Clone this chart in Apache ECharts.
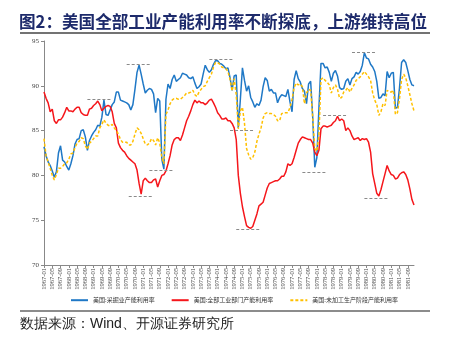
<!DOCTYPE html>
<html><head><meta charset="utf-8">
<script src="https://cdn.jsdelivr.net/npm/echarts@6/dist/echarts.min.js"></script>
<style>html,body{margin:0;padding:0;background:#fff}#c{width:449px;height:351px}</style>
</head><body><div id="c"></div>
<script>
// Monthly categories 1967-01 .. 1981-12
const startYear = 1967, monthCount = 180;
const categories = [];
for (let i = 0; i < monthCount; i++) {
  const y = startYear + Math.floor(i / 12), m = (i % 12) + 1;
  categories.push(y + '-' + (m < 10 ? '0' + m : m));
}
const seriesNames = ['美国:采掘业产能利用率', '美国:全部工业部门产能利用率', '美国:未加工生产阶段产能利用率'];
// 采掘业 (blue)
const mining = [
83.2,82.2,81.5,81.1,80.5,79.8,80.4,82.5,83.3,81.7,81.5,81.0,
80.6,81.3,82.2,83.5,84.0,84.1,85.0,85.1,84.3,82.8,83.9,84.4,
84.8,85.1,85.6,85.5,86.5,88.4,86.8,86.7,87.3,87.9,88.2,89.3,
89.3,88.4,88.3,88.2,88.1,87.9,87.3,87.9,89.6,91.5,92.3,91.3,
90.2,89.2,89.5,89.7,89.6,89.1,87.0,88.6,88.3,81.8,80.7,88.5,
90.2,89.7,90.7,91.2,90.5,90.7,90.9,91.4,91.3,91.2,90.9,90.8,
91.0,90.3,89.7,89.9,90.2,91.3,92.3,91.8,91.5,91.8,92.4,92.8,
92.8,92.5,92.4,92.2,91.9,92.0,90.9,89.5,91.1,91.2,85.3,88.5,
92.0,90.6,89.4,90.0,88.7,88.2,87.6,88.0,87.8,88.4,89.9,90.9,
90.6,89.4,89.6,89.2,89.2,88.1,88.7,89.0,88.9,88.8,89.6,88.2,
87.1,90.7,91.7,90.8,90.4,89.7,89.4,88.0,90.2,90.5,86.5,80.9,
82.0,87.5,92.5,92.5,92.0,92.1,91.5,90.5,91.4,91.7,91.1,89.8,
89.6,89.7,90.5,90.8,90.1,90.8,91.0,91.5,91.3,91.6,92.3,93.7,
93.1,93.0,92.4,92.1,91.6,90.5,88.6,88.7,89.1,88.9,91.6,90.9,
91.4,91.5,87.5,87.6,89.8,92.6,92.9,92.6,91.7,90.7,90.1,90.0];
// 全部工业部门 (red)
const allIndustry = [
89.3,88.6,88.1,87.1,87.4,86.1,85.8,86.2,86.2,86.5,87.0,87.6,
87.2,87.2,87.1,87.4,87.6,87.6,87.0,86.8,86.7,86.7,87.4,87.5,
87.8,88.0,88.3,87.9,87.2,87.5,87.7,87.8,87.7,87.1,85.8,85.3,
83.6,83.1,82.8,82.6,82.2,81.9,81.7,81.5,81.3,80.6,79.1,77.9,
79.4,79.7,79.4,79.2,79.2,79.5,79.6,78.7,79.4,80.0,80.1,80.5,
81.3,82.2,83.4,84.0,84.2,84.2,83.9,84.5,85.3,86.1,86.6,87.2,
87.9,88.4,88.1,88.3,88.1,88.1,87.9,88.1,88.4,88.5,88.1,87.6,
87.0,86.7,86.3,86.3,86.4,86.1,86.1,85.8,85.3,84.0,80.0,78.0,
76.5,75.4,74.4,74.2,74.1,74.3,75.0,75.7,76.6,76.8,77.0,77.8,
78.6,79.1,79.2,79.3,79.4,79.4,79.6,79.9,79.9,80.4,81.3,81.1,
81.3,82.0,82.8,83.6,84.0,84.3,84.2,84.1,84.0,84.0,83.6,82.6,
82.2,82.8,85.2,85.5,85.5,85.4,85.5,85.6,85.9,86.1,86.6,86.1,
86.3,86.1,85.0,85.3,85.0,84.4,84.0,84.1,84.2,83.9,84.1,84.0,
84.1,83.7,82.6,80.2,79.1,78.0,77.7,78.4,79.3,80.2,81.1,80.5,
80.1,80.0,79.6,79.7,80.1,80.3,80.4,80.1,79.5,78.5,77.3,76.7];
// 未加工生产阶段 (yellow dashed)
const crude = [
84.1,82.2,81.5,80.8,80.0,79.5,80.1,80.8,80.8,81.0,81.3,81.4,
81.8,82.4,82.5,83.1,83.6,83.8,84.2,84.1,83.3,82.9,83.6,83.8,
84.1,84.4,84.4,85.3,85.7,86.2,85.8,85.6,85.5,85.7,85.3,85.0,
84.6,84.0,83.7,83.7,83.7,83.4,83.4,83.8,84.6,85.3,85.1,84.7,
84.1,83.5,83.4,83.6,84.1,83.9,83.4,84.2,83.6,82.0,81.3,86.8,
87.3,88.0,88.4,88.6,88.6,88.5,88.5,88.7,88.9,89.2,89.2,89.3,
89.5,89.0,88.8,89.3,89.6,89.9,90.0,90.5,90.9,91.3,92.1,92.6,
92.6,92.4,92.1,92.0,91.9,91.6,90.7,89.4,90.8,89.0,85.2,87.2,
87.6,85.8,83.0,82.3,81.8,82.0,82.6,83.8,84.6,85.3,86.4,86.9,
87.0,86.9,86.9,86.8,86.6,86.1,86.1,86.9,87.0,87.0,87.0,87.6,
88.5,89.8,90.3,90.1,90.2,89.9,88.0,89.2,89.6,89.5,86.5,83.0,
82.7,84.5,90.7,90.9,90.6,90.4,90.1,89.2,89.8,90.1,89.6,88.6,
88.7,89.3,89.5,89.8,89.3,89.7,90.1,90.6,90.8,91.0,91.3,91.6,
91.3,91.0,90.6,89.2,88.4,87.9,86.7,87.1,88.0,87.8,89.5,89.3,
89.3,89.5,86.8,87.0,88.6,90.7,91.3,90.9,90.0,89.0,88.0,87.2];
// Grey reference segments: [start, end, level]
const refSegments = [
  ['1968-10','1969-10',88.5], ['1970-05','1971-05',92.4], ['1970-06','1971-06',77.7],
  ['1971-04','1972-04',80.6], ['1973-09','1974-09',93.0], ['1974-07','1975-07',85.0],
  ['1974-10','1975-10',74.0], ['1977-06','1978-06',80.4], ['1978-04','1979-04',86.7],
  ['1979-06','1980-06',93.8], ['1979-12','1980-12',77.5]
];
const yTicks = {min: 70, max: 95, interval: 5};

const chart = echarts.init(document.getElementById('c'), null, {renderer: 'canvas'});
const serif = '"Liberation Serif","Noto Sans CJK SC",serif';
chart.setOption({
  animation: false,
  backgroundColor: '#fff',
  title: {
    text: '图2：美国全部工业产能利用率不断探底，上游维持高位',
    left: 14, top: 8,
    textStyle: {fontSize: 16.6, fontWeight: 'bold', color: '#1d2a6b', fontFamily: '"Noto Sans CJK SC",sans-serif'}
  },
  graphic: [
    {type: 'line', shape: {x1: 20, y1: 33, x2: 430, y2: 33}, style: {stroke: '#444', lineWidth: 1.5}},
    {type: 'line', shape: {x1: 20, y1: 311, x2: 430, y2: 311}, style: {stroke: '#666', lineWidth: 1.5}},
    {type: 'text', left: 20, top: 317, style: {text: '数据来源：Wind、开源证券研究所', fontSize: 14, fill: '#222', font: '14.3px "Liberation Serif","Noto Sans CJK SC",serif'}}
  ],
  legend: {
    left: 65, top: 292, itemWidth: 17, itemHeight: 8, itemGap: 16,
    itemStyle: {opacity: 0},
    textStyle: {fontSize: 6, color: '#333', fontFamily: serif},
    data: seriesNames
  },
  grid: {left: 44, right: 35, top: 41, bottom: 86, containLabel: false},
  xAxis: {
    type: 'category', data: categories, boundaryGap: false,
    axisLine: {lineStyle: {color: '#888', width: 1}},
    axisTick: {interval: 3, length: 3, lineStyle: {color: '#888'}},
    axisLabel: {interval: 3, rotate: 90, fontSize: 6.5, color: '#444', margin: 3, fontFamily: serif},
    splitLine: {show: false}
  },
  yAxis: {
    type: 'value', min: yTicks.min, max: yTicks.max, interval: yTicks.interval,
    axisLine: {show: true, lineStyle: {color: '#888', width: 1}},
    axisTick: {show: true, length: 3, lineStyle: {color: '#888'}},
    axisLabel: {fontSize: 7, color: '#444', margin: 5, fontFamily: serif},
    splitLine: {show: false}
  },
  series: [
    {name: seriesNames[0], type: 'line', data: mining, symbol: 'none', smooth: false,
     lineStyle: {color: '#1f78c6', width: 1.5}, itemStyle: {color: '#1f78c6'},
     markLine: {silent: true, symbol: 'none', label: {show: false},
       lineStyle: {color: '#8a8a8a', type: [3, 2], width: 1},
       data: refSegments.map(s => [{xAxis: s[0], yAxis: s[2]}, {xAxis: s[1], yAxis: s[2]}])}},
    {name: seriesNames[1], type: 'line', data: allIndustry, symbol: 'none',
     lineStyle: {color: '#f5161b', width: 1.5}, itemStyle: {color: '#f5161b'}},
    {name: seriesNames[2], type: 'line', data: crude, symbol: 'none',
     lineStyle: {color: '#ffc000', width: 1.5, type: [3, 2]}, itemStyle: {color: '#ffc000'}}
  ]
});
</script></body></html>
